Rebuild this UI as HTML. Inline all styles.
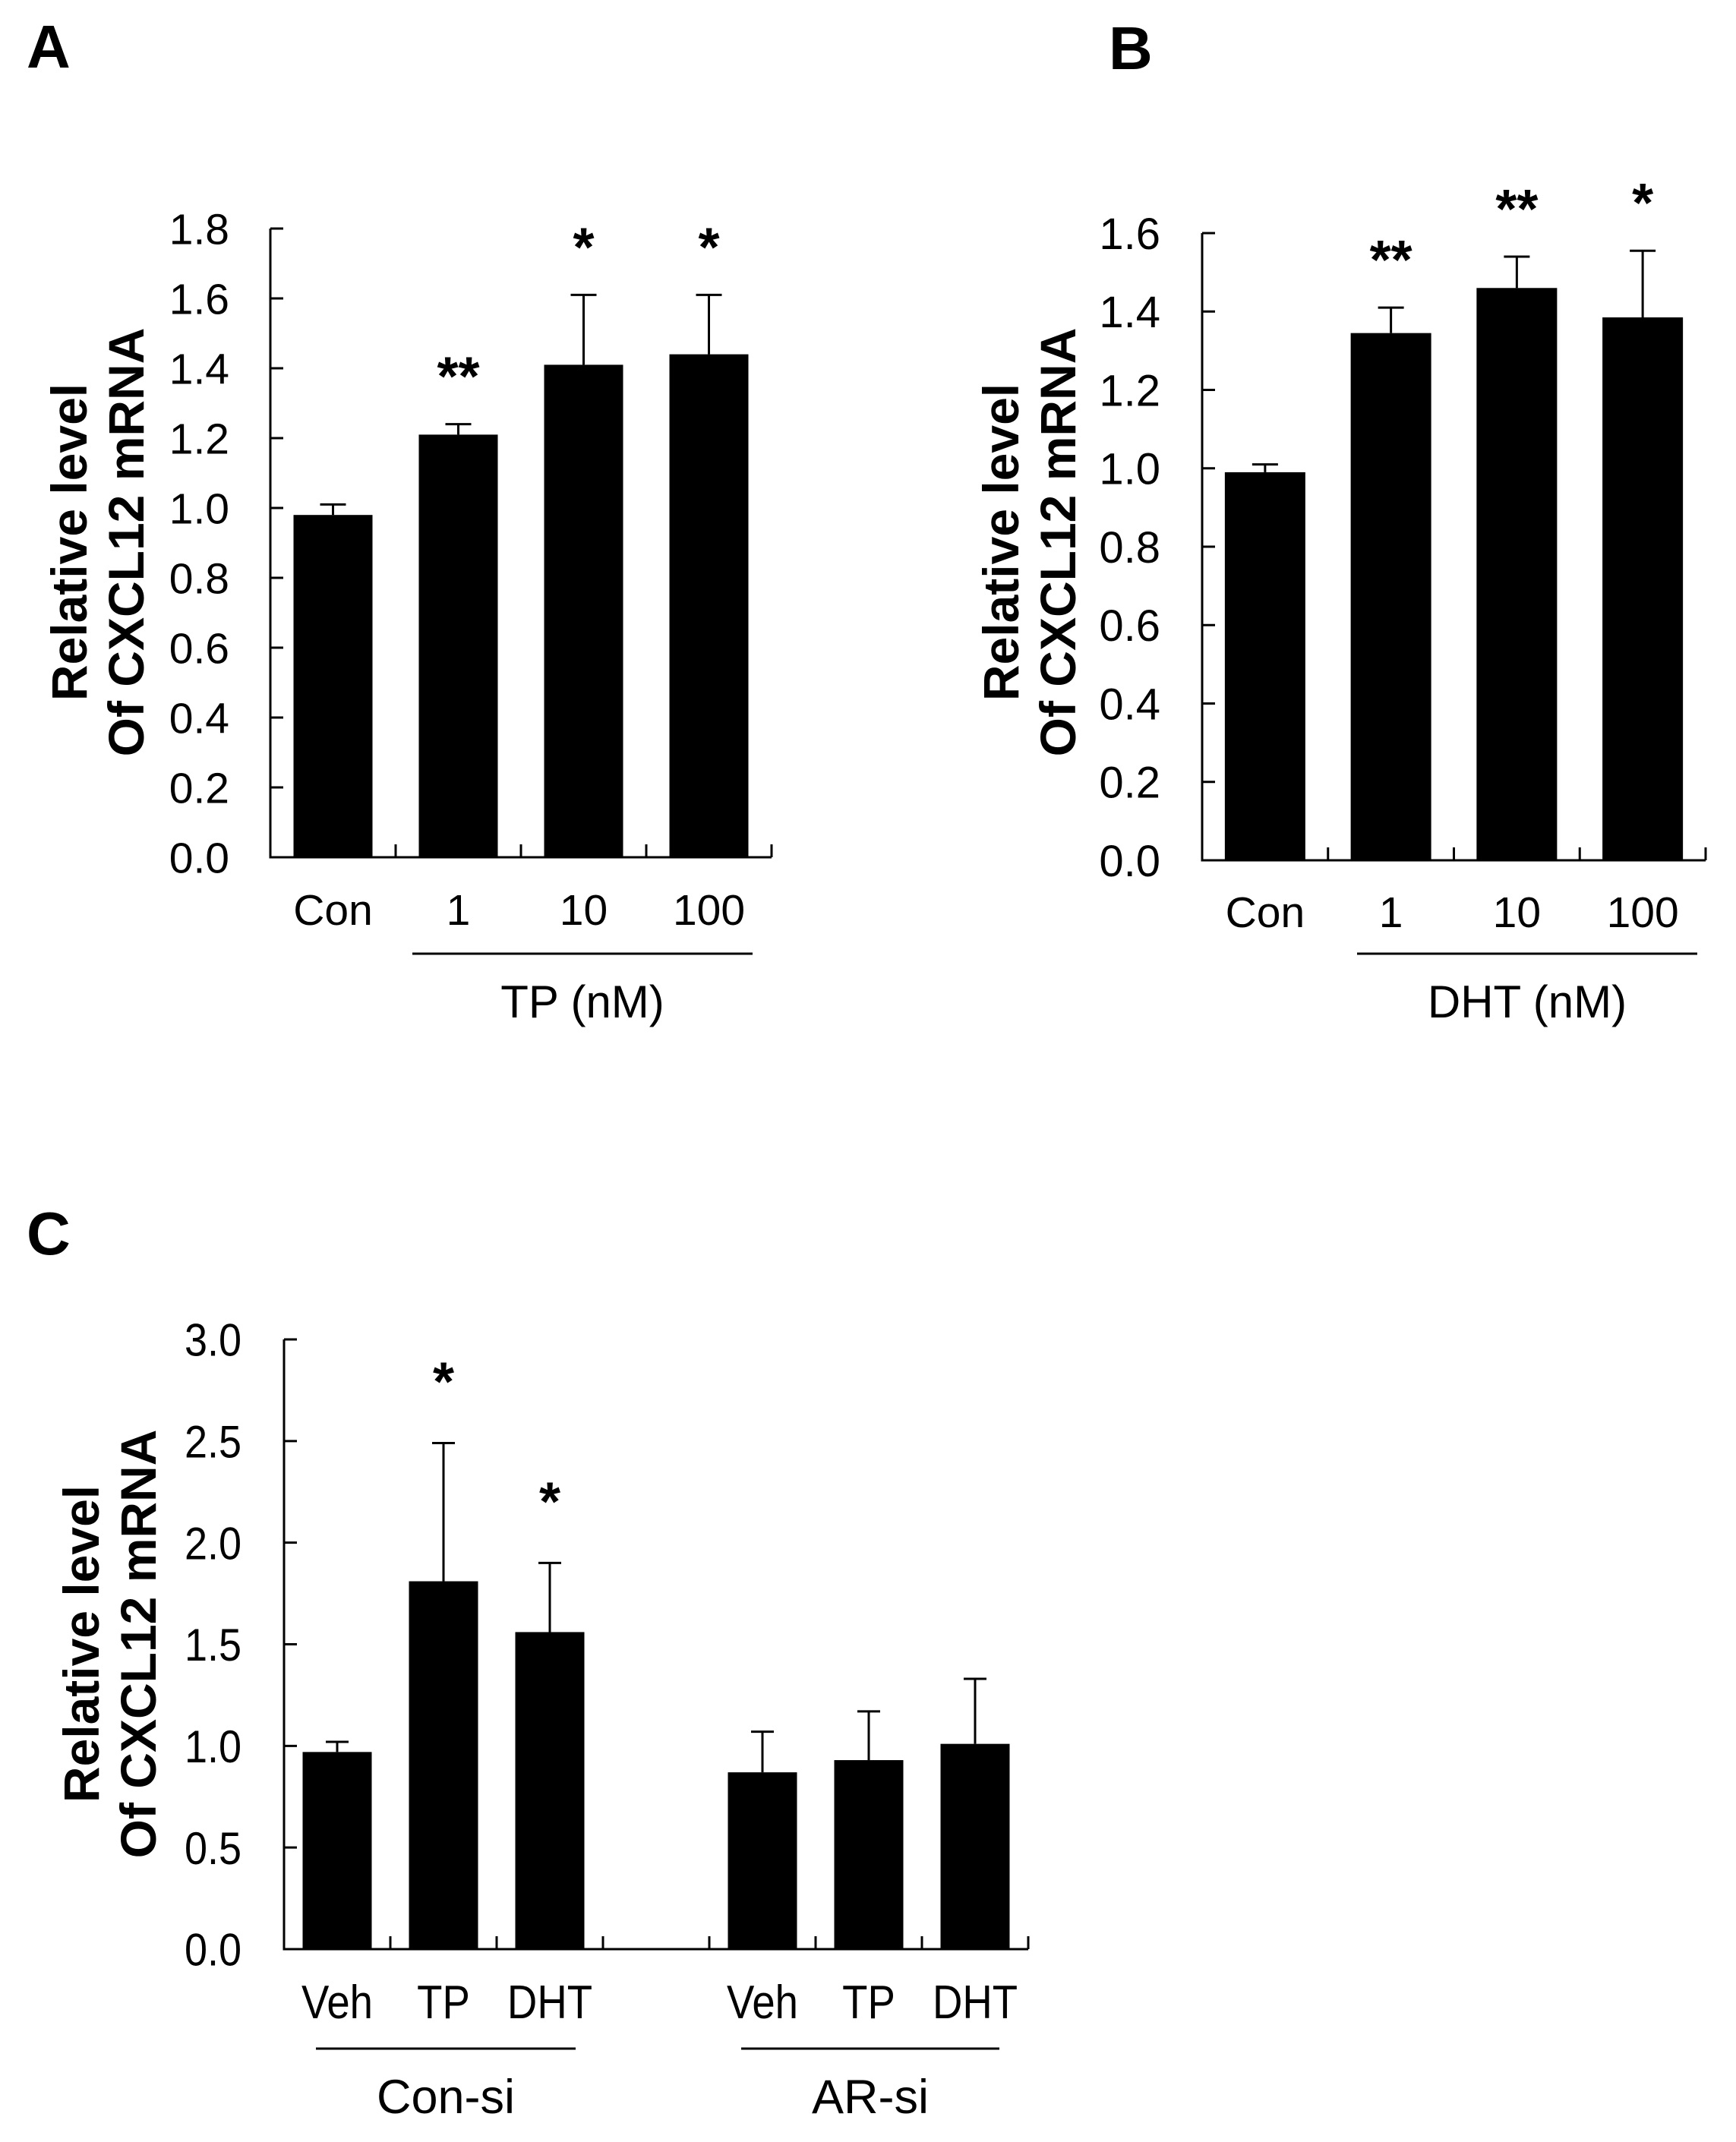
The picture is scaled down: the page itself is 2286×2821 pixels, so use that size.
<!DOCTYPE html>
<html><head><meta charset="utf-8"><style>
html,body{margin:0;padding:0;background:#fff}
svg{display:block}
text{font-family:"Liberation Sans",Arial,sans-serif;fill:#000}
</style></head><body>
<svg id="fig" width="2286" height="2821" viewBox="0 0 2286 2821" xmlns="http://www.w3.org/2000/svg">
<text x="35" y="89" font-size="80" font-weight="bold">A</text>
<text x="1460" y="91" font-size="80" font-weight="bold">B</text>
<text x="35" y="1652" font-size="80" font-weight="bold">C</text>
</svg>
<script>
// Panel A data
const aCategories = ["Con","1","10","100"];
const aValues = [0.98, 1.21, 1.41, 1.44];
const aErrors = [0.03, 0.03, 0.20, 0.17];
const aStars = ["", "**", "*", "*"];
const aTicks = ["0.0","0.2","0.4","0.6","0.8","1.0","1.2","1.4","1.6","1.8"];
// Panel B data
const bCategories = ["Con","1","10","100"];
const bValues = [0.99, 1.345, 1.46, 1.385];
const bErrors = [0.02, 0.065, 0.08, 0.17];
const bStars = ["", "**", "**", "*"];
const bTicks = ["0.0","0.2","0.4","0.6","0.8","1.0","1.2","1.4","1.6"];
// Panel C data
const cCategories = ["Veh","TP","DHT","","Veh","TP","DHT"];
const cValues = [0.97, 1.81, 1.56, null, 0.87, 0.93, 1.01];
const cErrors = [0.05, 0.68, 0.34, null, 0.20, 0.24, 0.32];
const cStars = ["", "*", "*", "", "", "", ""];
const cTicks = ["0.0","0.5","1.0","1.5","2.0","2.5","3.0"];

const NS="http://www.w3.org/2000/svg";
const svg=document.getElementById('fig');
function mk(tag,attrs,parent){const e=document.createElementNS(NS,tag);for(const k in attrs)e.setAttribute(k,attrs[k]);(parent||svg).appendChild(e);return e;}

function panel(cfg){
  const g=mk('g',{});
  
  
  const n=cfg.cats.length, slot=(cfg.x1-cfg.x0)/n;
  const yMax=parseFloat(cfg.ticks[cfg.ticks.length-1]);
  const Y=v=>cfg.y0-(v/yMax)*(cfg.y0-cfg.yTop);
  const X=i=>cfg.x0+slot*(i+0.5);
  const ya=mk('line',{x1:cfg.x0,y1:cfg.yTop,x2:cfg.x0,y2:cfg.y0,stroke:'#000','stroke-width':3},g);
  
  
  const xa=mk('line',{x1:cfg.x0-1.5,y1:cfg.y0,x2:cfg.x1,y2:cfg.y0,stroke:'#000','stroke-width':3},g);
  
  
  cfg.ticks.forEach(t=>{
    const y=Y(parseFloat(t));
    mk('line',{x1:cfg.x0,y1:y,x2:cfg.x0+17,y2:y,stroke:'#000','stroke-width':3},g);
    const tx=mk('text',{x:cfg.tlx,y:y+cfg.tfs*0.36,'font-size':cfg.tfs,'text-anchor':'end'},g);
    if(cfg.narrow){tx.setAttribute('transform',`translate(${cfg.tlx},0) scale(0.9,1) translate(${-cfg.tlx},0)`);}
    tx.textContent=t;
    
    
  });
  for(let i=1;i<=n;i++){const x=cfg.x0+slot*i;mk('line',{x1:x,y1:cfg.y0,x2:x,y2:cfg.y0-17,stroke:'#000','stroke-width':3},g);}
  cfg.cats.forEach((c,i)=>{
    const cx=X(i);
    if(cfg.vals[i]!=null){
      const v=cfg.vals[i], top=Y(v), et=Y(v+cfg.errs[i]);
      const eb=mk('line',{x1:cx,y1:top,x2:cx,y2:et,stroke:'#000','stroke-width':3},g);
      
      
      mk('line',{x1:cx-cfg.cap/2,y1:et,x2:cx+cfg.cap/2,y2:et,stroke:'#000','stroke-width':3},g);
      const r=mk('rect',{x:cx-cfg.bw/2,y:top,width:cfg.bw,height:cfg.y0-top,fill:'#000'},g);
      
      
      if(cfg.stars[i]){
        const s=mk('text',{x:cx,y:et-cfg.starGap,'font-size':72,'font-weight':'bold','text-anchor':'middle'},g);
        s.textContent=cfg.stars[i];
        
        
      }
    }
    if(c){
      const t=mk('text',{x:cx,y:cfg.catY,'font-size':cfg.cfs,'text-anchor':'middle'},g);
      if(cfg.narrow){t.setAttribute('transform',`translate(${cx},0) scale(0.88,1) translate(${-cx},0)`);}
      t.textContent=c;
      
      
    }
  });
  cfg.groups.forEach(gr=>{
    const l=mk('line',{x1:gr.x1,y1:gr.ly,x2:gr.x2,y2:gr.ly,stroke:'#000','stroke-width':3},g);
    
    
    const t=mk('text',{x:(gr.x1+gr.x2)/2,y:gr.ty,'font-size':cfg.gfs,'text-anchor':'middle'},g);
    t.textContent=gr.label;
    
    
  });
  const yl=mk('text',{transform:`translate(${cfg.ylx},${cfg.ylc}) rotate(-90)`,'font-size':66,'font-weight':'bold','text-anchor':'middle'},g);
  
  
  const t1=mk('tspan',{x:0,y:0},yl);t1.textContent='Relative level';
  const t2=mk('tspan',{x:0,y:75},yl);t2.textContent='Of CXCL12 mRNA';
}

panel({name:'panel-a-chart',cats:aCategories,vals:aValues,errs:aErrors,stars:aStars,ticks:aTicks,
  x0:356,x1:1016,y0:1129,yTop:301,bw:104,cap:34,tlx:302,tfs:57,catY:1218,cfs:57,gfs:60,starGap:38,
  groups:[{x1:543,x2:991,ly:1256,ty:1340,label:'TP (nM)'}],ylx:114,ylc:714});
panel({name:'panel-b-chart',cats:bCategories,vals:bValues,errs:bErrors,stars:bStars,ticks:bTicks,
  x0:1583,x1:2246,y0:1133,yTop:307,bw:106,cap:34,tlx:1528,tfs:58,catY:1221,cfs:57,gfs:60,starGap:38,
  groups:[{x1:1787,x2:2235,ly:1256,ty:1340,label:'DHT (nM)'}],ylx:1341,ylc:714});
panel({name:'panel-c-chart',cats:cCategories,vals:cValues,errs:cErrors,stars:cStars,ticks:cTicks,
  x0:374,x1:1354,y0:2567,yTop:1764,bw:91,cap:30,tlx:318,tfs:60,catY:2658,cfs:62,gfs:63,starGap:56,narrow:true,
  groups:[{x1:416,x2:758,ly:2698,ty:2783,label:'Con-si'},{x1:976,x2:1316,ly:2698,ty:2783,label:'AR-si'}],ylx:130,ylc:2165});
</script>
</body></html>
